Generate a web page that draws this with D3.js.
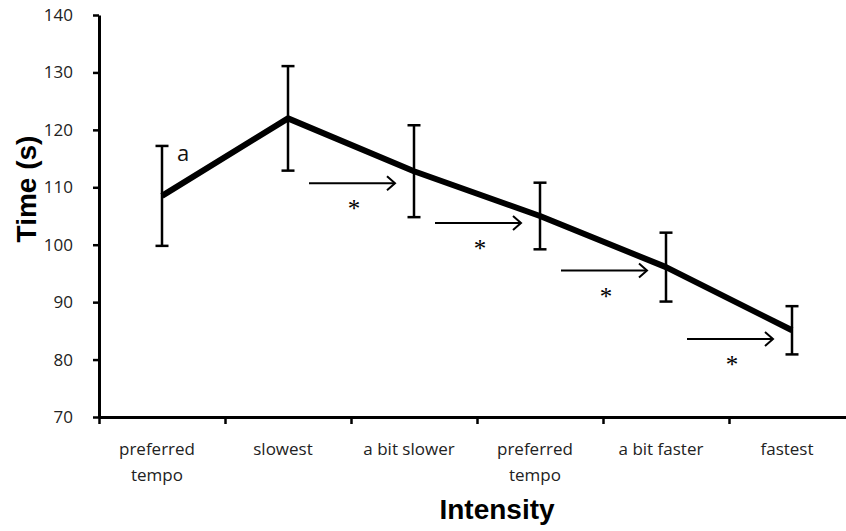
<!DOCTYPE html>
<html>
<head>
	<script src="https://d3js.org/d3.v7.min.js"></script>
	<style>
		body { margin: 0; background: #fff; }
		text { font-family: 'Open Sans', sans-serif; fill: #222; }
	</style>
</head>
<body>
<svg id="container"></svg>
</body>
<script>
// data
let categories = ['preferred\ntempo', 'slowest', 'a bit slower', 'preferred\ntempo', 'a bit faster', 'fastest'];
let means = [108.5, 122, 112.8, 105, 96.1, 85.1];
let errors = [8.7, 9.1, 8.0, 5.8, 6.0, 4.2];
let yTicks = [70, 80, 90, 100, 110, 120, 130, 140];
// significance arrows between neighbouring conditions (from index, height in s)
let arrowFrom = [1, 2, 3, 4];
let arrowLevel = [110.7, 103.8, 95.5, 83.6];

let width = 846, height = 531;
let marginLeft = 99, marginTop = 15, plotW = 756, plotH = 402;

let svg = d3.select('#container')
	.attr('width', width)
	.attr('height', height);

let x = d3.scaleBand()
	.domain(d3.range(categories.length))
	.range([marginLeft, marginLeft + plotW]);

let xEdge = d3.scaleLinear()
	.domain([0, categories.length])
	.range([marginLeft, marginLeft + plotW]);

let y = d3.scaleLinear()
	.domain([70, 140])
	.range([marginTop + plotH, marginTop]);

let cx = (i) => { return x(i) + x.bandwidth() / 2 };

// y axis
let yAxis = svg.append('g')
	.attr('transform', `translate(${marginLeft},0)`)
	.call(d3.axisLeft(y).tickValues(yTicks).tickSize(6).tickPadding(20).tickSizeOuter(0));
yAxis.select('.domain').attr('stroke', '#000').attr('stroke-width', 3);
yAxis.selectAll('.tick line').attr('stroke', '#000').attr('stroke-width', 2.5);
yAxis.selectAll('.tick text')
	.style('font-family', "'Open Sans', sans-serif")
	.style('font-size', '17px')
	.attr('fill', '#222');

// x axis (ticks on band edges)
let xAxis = svg.append('g')
	.attr('transform', `translate(0,${marginTop + plotH})`)
	.call(d3.axisBottom(xEdge).tickValues(d3.range(categories.length + 1)).tickSize(7).tickFormat('').tickSizeOuter(0));
xAxis.select('.domain').attr('stroke', '#000').attr('stroke-width', 3);
xAxis.selectAll('.tick line').attr('stroke', '#000').attr('stroke-width', 2.5);

// category labels
let labels = svg.append('g')
	.selectAll('text')
	.data(categories)
	.enter()
	.append('text')
	.attr('text-anchor', 'middle')
	.style('font-size', '17px');
labels.each(function(d, i) {
	let t = d3.select(this);
	d.split('\n').forEach((line, k) => {
		t.append('tspan')
			.attr('x', cx(i) - 5)
			.attr('y', 455 + k * 26)
			.text(line);
	});
});

// axis titles
svg.append('text')
	.attr('x', 497)
	.attr('y', 519)
	.attr('text-anchor', 'middle')
	.style('font-family', "'Liberation Sans', Arial, sans-serif")
	.style('font-weight', 'bold')
	.style('font-size', '28px')
	.style('fill', '#000')
	.text('Intensity');

svg.append('text')
	.attr('transform', 'translate(36,189) rotate(-90)')
	.attr('text-anchor', 'middle')
	.style('font-family', "'Liberation Sans', Arial, sans-serif")
	.style('font-weight', 'bold')
	.style('font-size', '28px')
	.style('fill', '#000')
	.text('Time (s)');

// mean line
let line = d3.line()
	.x((d, i) => { return cx(i) })
	.y((d) => { return y(d) });

svg.append('path')
	.datum(means)
	.attr('d', line)
	.attr('fill', 'none')
	.attr('stroke', '#000')
	.attr('stroke-width', 6)
	.attr('stroke-linejoin', 'round');

// error bars
let bars = svg.append('g')
	.selectAll('g')
	.data(means)
	.enter()
	.append('g')
	.attr('stroke', '#000')
	.attr('stroke-width', 2.5);
bars.append('line')
	.attr('x1', (d, i) => { return cx(i) })
	.attr('x2', (d, i) => { return cx(i) })
	.attr('y1', (d, i) => { return y(d + errors[i]) })
	.attr('y2', (d, i) => { return y(d - errors[i]) });
bars.append('line')
	.attr('x1', (d, i) => { return cx(i) - 6.5 })
	.attr('x2', (d, i) => { return cx(i) + 6.5 })
	.attr('y1', (d, i) => { return y(d + errors[i]) })
	.attr('y2', (d, i) => { return y(d + errors[i]) });
bars.append('line')
	.attr('x1', (d, i) => { return cx(i) - 6.5 })
	.attr('x2', (d, i) => { return cx(i) + 6.5 })
	.attr('y1', (d, i) => { return y(d - errors[i]) })
	.attr('y2', (d, i) => { return y(d - errors[i]) });

// label "a"
svg.append('text')
	.attr('x', cx(0) + 15)
	.attr('y', y(means[0] + errors[0]) + 15)
	.style('font-size', '22px')
	.style('fill', '#111')
	.text('a');

// arrows with asterisks
let arrows = svg.append('g')
	.selectAll('g')
	.data(arrowFrom)
	.enter()
	.append('g');
arrows.append('line')
	.attr('x1', (d) => { return cx(d) + 21 })
	.attr('x2', (d) => { return cx(d + 1) - 19 })
	.attr('y1', (d, i) => { return y(arrowLevel[i]) })
	.attr('y2', (d, i) => { return y(arrowLevel[i]) })
	.attr('stroke', '#000')
	.attr('stroke-width', 2);
arrows.append('path')
	.attr('d', (d, i) => {
		let ex = cx(d + 1) - 19, ey = y(arrowLevel[i]);
		return `M${ex - 8},${ey - 7} L${ex},${ey} L${ex - 8},${ey + 7}`;
	})
	.attr('fill', 'none')
	.attr('stroke', '#000')
	.attr('stroke-width', 2);
arrows.append('text')
	.attr('x', (d) => { return (cx(d) + cx(d + 1)) / 2 + 3 })
	.attr('y', (d, i) => { return y(arrowLevel[i]) + 34 })
	.attr('text-anchor', 'middle')
	.style('font-family', "'Liberation Serif', serif")
	.style('font-size', '25px')
	.style('fill', '#000')
	.text('*');
</script>
</html>
